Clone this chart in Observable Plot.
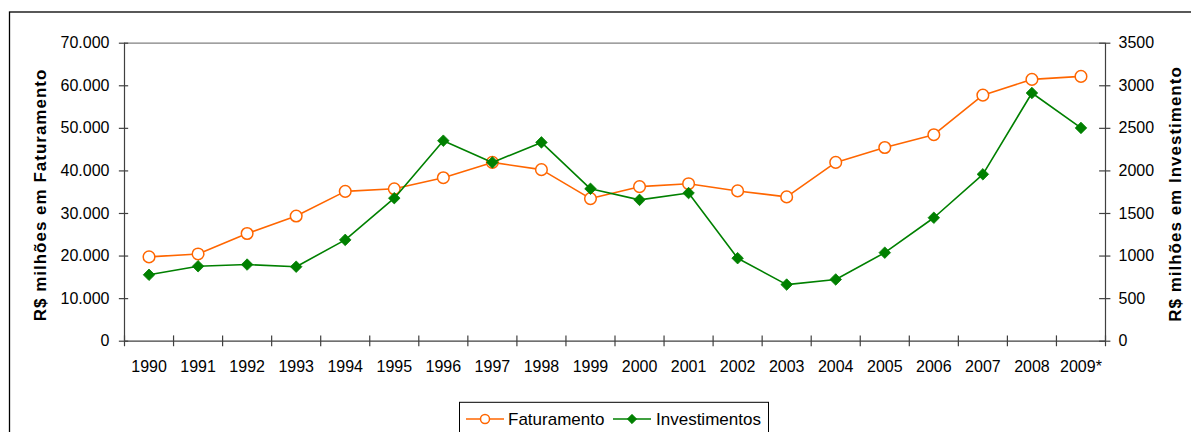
<!DOCTYPE html>
<html>
<head>
<meta charset="utf-8">
<script src="https://cdn.jsdelivr.net/npm/d3@7"></script>
<script src="https://cdn.jsdelivr.net/npm/@observablehq/plot@0.6"></script>
<style>
  html, body { margin: 0; padding: 0; background: #fff; }
  #chart svg { display: block; overflow: visible; }
</style>
</head>
<body>
<div id="chart"></div>
<script>
const years = ["1990","1991","1992","1993","1994","1995","1996","1997","1998","1999",
               "2000","2001","2002","2003","2004","2005","2006","2007","2008","2009*"];
const faturamento = [19800, 20500, 25300, 29400, 35200, 35800, 38400, 42000, 40300, 33500,
                     36300, 37000, 35300, 33900, 42000, 45500, 48500, 57800, 61500, 62200];
const investimentos = [780, 880, 900, 875, 1190, 1680, 2355, 2100, 2335, 1790,
                       1660, 1740, 975, 665, 725, 1040, 1450, 1960, 2915, 2505];
const leftTicks = [0, 10000, 20000, 30000, 40000, 50000, 60000, 70000];
const rightTicks = [0, 500, 1000, 1500, 2000, 2500, 3000, 3500];
const seriesNames = ["Faturamento", "Investimentos"];
const leftTitle = "R$ milhões em Faturamento";
const rightTitle = "R$ milhões em Investimento";

const ratio = 70000 / 3500;
const orange = "#FF6600";
const green = "#008000";
const axisColor = "#404040";

const fatData = years.map((y, i) => ({x: i + 0.5, v: faturamento[i]}));
const invData = years.map((y, i) => ({x: i + 0.5, v: investimentos[i] * ratio}));
const fmt = d => d3.format(",")(d).replace(/,/g, ".");

const W = 1191, H = 432;
const chart = Plot.plot({
  width: W,
  height: H,
  marginLeft: 124,
  marginRight: 86,
  marginTop: 42.7,
  marginBottom: 91.3,
  style: {fontFamily: "'Liberation Sans', Arial, sans-serif", fontSize: "16px", color: "#000", background: "#fff"},
  x: {type: "linear", domain: [0, 20], axis: null},
  y: {domain: [0, 70000], axis: null},
  marks: [
    Plot.ruleY([70000], {stroke: "#808080", strokeWidth: 1.2}),
    Plot.ruleX([0, 20], {stroke: axisColor, strokeWidth: 1.2}),
    Plot.ruleY([0], {stroke: axisColor, strokeWidth: 1.2}),
    Plot.ruleX(d3.range(21), {y1: -1300, y2: 1250, stroke: axisColor, strokeWidth: 1.2}),
    Plot.ruleY(leftTicks, {x1: -0.105, x2: 0.085, stroke: axisColor, strokeWidth: 1.2}),
    Plot.ruleY(rightTicks.map(d => d * ratio), {x1: 19.88, x2: 20.11, stroke: axisColor, strokeWidth: 1.2}),
    Plot.axisY(leftTicks, {anchor: "left", tickSize: 0, tickPadding: 15, tickFormat: fmt, label: null, fontSize: 16}),
    Plot.axisY(rightTicks.map(d => d * ratio), {anchor: "right", tickSize: 0, tickPadding: 13, tickFormat: d => String(d / ratio), label: null, fontSize: 16}),
    Plot.axisX(d3.range(20).map(i => i + 0.5), {anchor: "bottom", tickSize: 0, tickPadding: 19, tickFormat: d => years[Math.floor(d)], label: null, fontSize: 16}),
    Plot.line(fatData, {x: "x", y: "v", stroke: orange, strokeWidth: 1.6}),
    Plot.dot(fatData, {x: "x", y: "v", r: 5.8, stroke: orange, fill: "white", strokeWidth: 1.5}),
    Plot.line(invData, {x: "x", y: "v", stroke: green, strokeWidth: 1.6}),
    Plot.dot(invData, {x: "x", y: "v", symbol: "diamond2", r: 5.2, fill: green, stroke: green, strokeWidth: 0.8})
  ]
});
document.getElementById("chart").appendChild(chart);

const svg = d3.select(chart);
const FONT = "'Liberation Sans', Arial, sans-serif";
// outer frame
svg.append("rect").attr("x", 9.5).attr("y", 12).attr("width", 1300).attr("height", 600)
  .attr("fill", "none").attr("stroke", "#000").attr("stroke-width", 1.3);
// axis titles
const titleStyle = sel => sel.attr("text-anchor", "middle").attr("dominant-baseline", "central")
  .attr("font-weight", "bold").attr("font-size", "17px").attr("letter-spacing", "1px")
  .attr("font-family", FONT).attr("fill", "#000");
svg.append("text").attr("transform", "translate(40,195) rotate(-90)").text(leftTitle).call(titleStyle);
svg.append("text").attr("transform", "translate(1175,194) rotate(-90)").text(rightTitle).call(titleStyle);
// legend
const lg = svg.append("g").attr("text-anchor", "start");
lg.append("rect").attr("x", 459.5).attr("y", 402.3).attr("width", 309).attr("height", 60)
  .attr("fill", "#fff").attr("stroke", "#000").attr("stroke-width", 1);
const ly = 419;
lg.append("line").attr("x1", 466).attr("x2", 504).attr("y1", ly).attr("y2", ly).attr("stroke", orange).attr("stroke-width", 1.6);
lg.append("circle").attr("cx", 485).attr("cy", ly).attr("r", 4.5).attr("fill", "#fff").attr("stroke", orange).attr("stroke-width", 1.5);
lg.append("text").attr("x", 508).attr("y", 424.5).attr("text-anchor", "start").text(seriesNames[0])
  .attr("font-size", "17px").attr("font-family", FONT).attr("fill", "#000");
lg.append("line").attr("x1", 613).attr("x2", 651).attr("y1", ly).attr("y2", ly).attr("stroke", green).attr("stroke-width", 1.6);
lg.append("path").attr("d", d3.symbol(d3.symbolDiamond2, Math.PI * 4.2 * 4.2)()).attr("transform", `translate(632,${ly})`).attr("fill", green).attr("stroke", green).attr("stroke-width", 0.8);
lg.append("text").attr("x", 656).attr("y", 424.5).attr("text-anchor", "start").text(seriesNames[1])
  .attr("font-size", "17px").attr("font-family", FONT).attr("fill", "#000");
</script>
</body>
</html>
